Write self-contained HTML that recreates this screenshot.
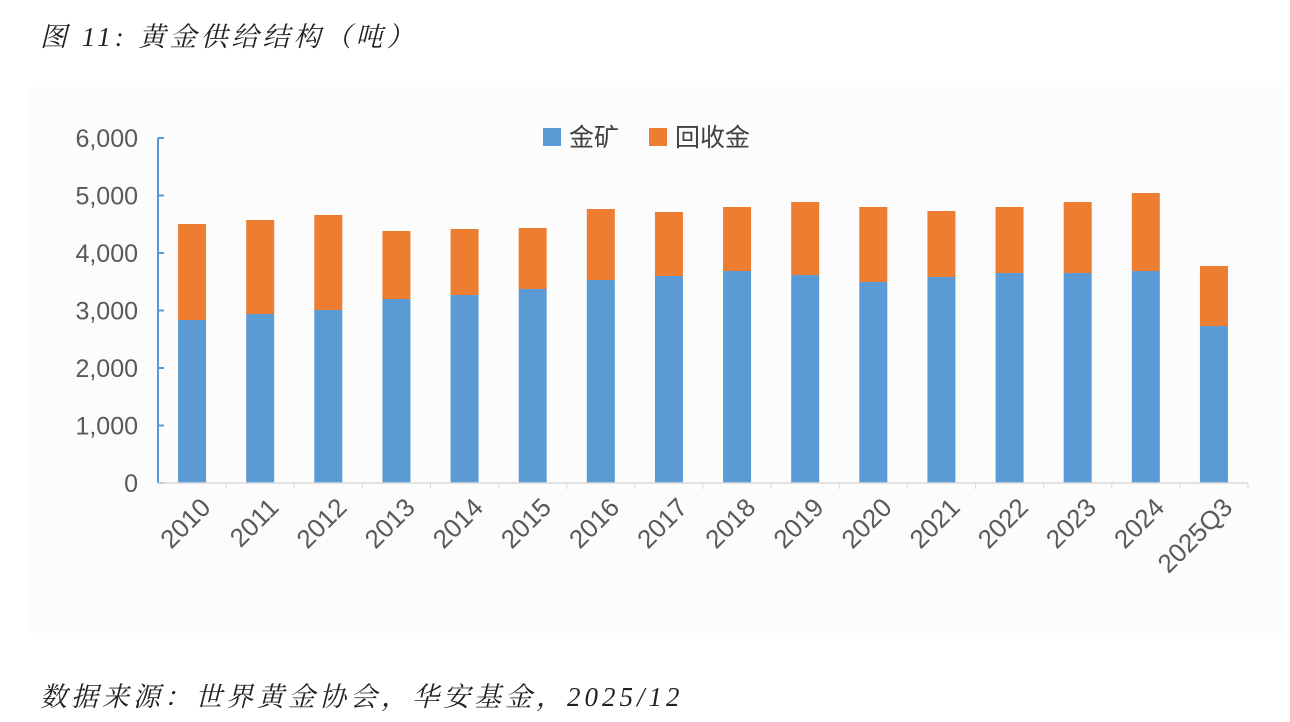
<!DOCTYPE html>
<html><head><meta charset="utf-8"><style>
body{margin:0;background:#fff;width:1290px;height:722px;overflow:hidden;font-family:"Liberation Sans","Noto Sans CJK SC",sans-serif}
.t{position:absolute;font-style:italic;font-size:27px;color:#222;font-family:"Liberation Serif","Noto Serif CJK SC",serif}
</style></head><body>
<div class="t" style="left:40px;top:15px;letter-spacing:4px">图 11:  黄金供给结构（吨）</div>
<div class="t" style="left:40px;top:675px;letter-spacing:4px">数据来源：世界黄金协会，华安基金，2025/12</div>
<svg id="c" width="1290" height="722" style="position:absolute;left:0;top:0">
<rect x="30" y="87" width="1256" height="546" fill="#fcfcfc"/>
</svg>
<script>
const categories=["2010","2011","2012","2013","2014","2015","2016","2017","2018","2019","2020","2021","2022","2023","2024","2025Q3"];
const mine=[2835,2939,3009,3200,3270,3374,3530,3600,3687,3617,3496,3583,3652,3652,3687,2730];
const recycled=[1669,1635,1652,1183,1147,1061,1235,1113,1113,1270,1304,1147,1148,1235,1356,1044];
const yTicks=[0,1000,2000,3000,4000,5000,6000];
const yTickLabels=["0","1,000","2,000","3,000","4,000","5,000","6,000"];
const NS="http://www.w3.org/2000/svg",svg=document.getElementById('c');
const x0=158,x1=1248,y0=483,yTop=138,yMax=6000;
const band=(x1-x0)/categories.length,bw=28;
const y=v=>y0-(v/yMax)*(y0-yTop);
const xc=i=>x0+band*(i+0.5);
function mk(t,a){const e=document.createElementNS(NS,t);for(const k in a)e.setAttribute(k,a[k]);svg.appendChild(e);return e;}
yTicks.forEach((v,i)=>{
 const l=mk('line',{x1:x0,x2:x0+6,y1:y(v),y2:y(v),stroke:'#5b9bd5','stroke-width':2});
 
 
 const t=mk('text',{x:x0-20,y:y(v)+9,'text-anchor':'end','font-size':25,fill:'#595959'});
 t.textContent=yTickLabels[i];
 
 
});
const ya=mk('line',{x1:x0,x2:x0,y1:yTop,y2:y0,stroke:'#5b9bd5','stroke-width':2});


categories.forEach((c,i)=>{
 const b1=mk('rect',{x:xc(i)-bw/2,y:y(mine[i]),width:bw,height:y0-y(mine[i]),fill:'#5b9bd5'});
 
 
 const tot=mine[i]+recycled[i];
 const b2=mk('rect',{x:xc(i)-bw/2,y:y(tot),width:bw,height:y(mine[i])-y(tot),fill:'#ed7d31'});
 
 
 const lx=xc(i)+20,ly=y0+26;
 const t=mk('text',{x:lx,y:ly,'text-anchor':'end','font-size':26,fill:'#595959',transform:`rotate(-45 ${lx} ${ly})`});
 t.textContent=c;
 
 
 const tk=mk('line',{x1:x0+band*(i+1),x2:x0+band*(i+1),y1:y0,y2:y0+6,stroke:'#d9d9d9','stroke-width':1});
 
 
});
const xa=mk('line',{x1:x0,x2:x1,y1:y0,y2:y0,stroke:'#d9d9d9','stroke-width':1.5});


const lg=[["金矿","#5b9bd5",543],["回收金","#ed7d31",649]];
lg.forEach(([n,col,lx])=>{
 const r=mk('rect',{x:lx,y:128,width:18,height:18,fill:col});
 
 
 const t=mk('text',{x:lx+26,y:146,'font-size':25,fill:'#404040'});
 t.textContent=n;
 
 
});
</script>
</body></html>
